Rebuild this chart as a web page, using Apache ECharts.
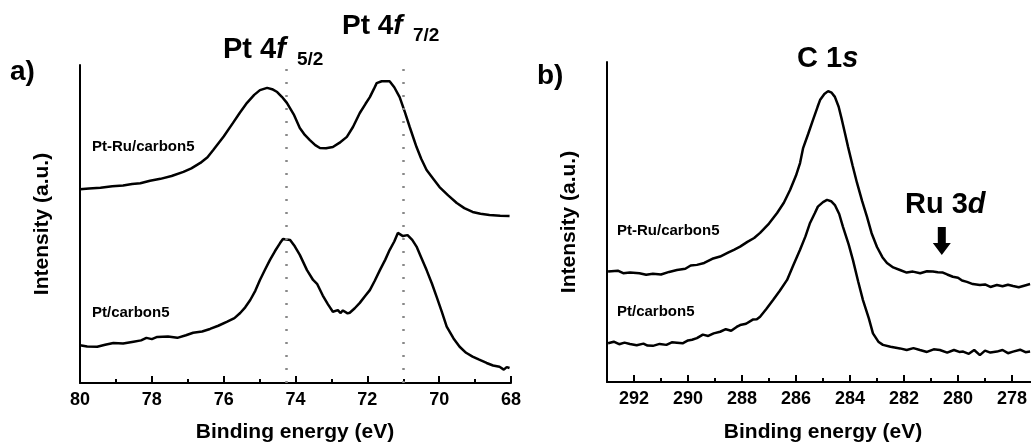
<!DOCTYPE html>
<html>
<head>
<meta charset="utf-8">
<script src="https://cdn.jsdelivr.net/npm/echarts@6/dist/echarts.min.js"></script>
<style>
  html, body { margin: 0; padding: 0; background: #fff; }
  #chart { width: 1031px; height: 443px; }
</style>
</head>
<body>
<div id="chart"></div>
<script>
// a) Pt 4f region
const ptEnergyA = [80.00,79.75,79.43,79.10,78.80,78.55,78.32,78.05,77.76,77.45,77.12,76.90,76.65,76.45,76.29,76.00,75.74,75.55,75.35,75.15,74.99,74.79,74.65,74.51,74.38,74.24,74.05,73.88,73.74,73.60,73.45,73.32,73.15,72.96,72.78,72.57,72.40,72.21,72.05,71.93,71.82,71.74,71.60,71.38,71.25,71.10,70.95,70.82,70.70,70.63,70.50,70.35,70.15,69.99,69.75,69.51,69.30,69.07,68.85,68.60,68.30,68.04];
const ptRuIntensityA = [60.9,61.2,61.4,61.9,62.1,62.6,62.8,63.6,64.2,65.1,66.4,67.5,69.2,71.0,73.3,77.5,81.8,85.0,88.1,90.6,92.1,92.8,92.4,91.5,90.0,88.1,84.5,80.2,78.0,76.4,74.8,73.9,73.8,74.2,75.5,77.4,80.5,84.9,87.8,89.9,92.4,94.3,94.9,94.9,93.0,89.9,85.0,80.5,76.5,74.2,70.5,67.0,64.0,61.6,59.0,56.6,55.0,53.8,53.2,52.8,52.6,52.5];

const ptEnergyB = [80.00,79.80,79.52,79.30,79.07,78.80,78.51,78.30,78.15,78.00,77.85,77.55,77.29,77.05,76.85,76.60,76.38,76.15,75.90,75.70,75.54,75.40,75.26,75.12,74.99,74.85,74.71,74.57,74.43,74.35,74.15,74.02,73.88,73.68,73.51,73.40,73.24,73.10,72.96,72.82,72.75,72.68,72.55,72.49,72.35,72.21,72.05,71.93,71.80,71.65,71.50,71.38,71.25,71.15,71.01,70.88,70.75,70.63,70.50,70.35,70.20,70.07,69.93,69.79,69.60,69.43,69.25,69.07,68.90,68.68,68.50,68.32,68.20,68.12,68.04];
const ptIntensityA = [11.9,11.5,11.4,12.0,12.6,12.4,13.0,13.4,14.2,13.8,14.5,14.6,14.2,15.0,15.8,16.2,17.0,18.0,19.3,20.4,22.0,23.8,26.1,29.0,32.4,35.6,38.7,41.5,44.0,45.3,45.0,43.0,40.3,35.5,32.4,31.2,27.5,24.8,22.4,22.9,22.0,22.8,21.9,22.1,23.5,25.2,27.5,29.2,32.0,35.5,38.8,41.8,44.5,47.2,46.2,46.5,45.0,42.9,39.5,35.5,31.2,27.1,22.5,17.7,14.0,11.4,9.5,8.3,7.4,6.3,5.5,5.1,4.2,5.0,4.7];

// b) C 1s region
const cEnergyA = [292.96,292.60,292.40,292.15,291.80,291.55,291.30,291.00,290.70,290.41,290.10,289.90,289.67,289.40,289.10,288.81,288.50,288.30,288.07,287.80,287.55,287.33,287.00,286.70,286.45,286.22,286.00,285.85,285.74,285.55,285.37,285.20,285.11,284.95,284.81,284.68,284.56,284.42,284.30,284.18,284.07,283.90,283.74,283.55,283.37,283.20,283.00,282.80,282.63,282.40,282.15,281.90,281.67,281.40,281.15,280.93,280.75,280.56,280.40,280.19,280.00,279.85,279.67,279.45,279.19,279.00,278.80,278.56,278.35,278.15,277.96,277.75,277.55,277.33];
const ptRuIntensityB = [34.5,34.8,34.0,34.2,34.0,33.5,33.8,33.6,34.4,35.0,35.4,36.4,36.6,37.2,38.5,39.2,40.5,41.3,42.3,43.8,45.0,46.6,49.5,52.8,56.0,60.0,64.5,68.4,73.0,77.5,81.9,86.0,88.1,90.0,90.9,90.4,89.1,86.0,81.9,77.5,73.4,67.5,62.2,56.5,51.6,46.5,42.2,39.0,37.2,35.8,35.0,34.2,34.5,34.0,34.6,34.5,34.3,34.2,33.6,32.9,32.6,31.7,31.3,30.6,30.3,30.5,29.7,30.3,29.9,30.4,30.0,29.6,30.1,30.6];

const cEnergyB = [292.96,292.75,292.55,292.35,292.15,291.90,291.65,291.50,291.30,291.05,290.80,290.60,290.41,290.20,290.00,289.85,289.67,289.45,289.25,289.05,288.81,288.60,288.40,288.20,288.07,287.85,287.60,287.45,287.33,287.10,286.85,286.60,286.33,286.10,285.85,285.65,285.48,285.30,285.19,285.00,284.85,284.70,284.56,284.40,284.26,284.05,283.89,283.70,283.52,283.30,283.15,282.95,282.78,282.50,282.15,281.90,281.65,281.41,281.15,280.90,280.67,280.40,280.15,279.95,279.81,279.60,279.40,279.19,279.00,278.80,278.56,278.35,278.15,277.96,277.70,277.50,277.33];
const ptIntensityB = [12.1,12.6,11.8,12.3,11.9,11.5,12.0,11.4,11.3,11.9,11.6,12.4,12.3,12.1,13.0,13.2,13.7,14.8,14.4,15.2,15.7,16.5,16.0,17.2,17.8,18.2,19.5,19.6,20.4,22.8,25.6,28.5,31.9,36.5,41.3,45.5,49.7,52.8,54.8,56.2,56.9,56.5,55.3,52.5,48.5,43.0,38.1,31.5,25.6,19.8,15.2,12.6,11.6,11.0,10.5,10.0,10.6,10.0,9.4,10.2,10.0,9.2,10.0,9.4,9.5,8.8,10.0,8.4,9.8,9.2,9.5,10.0,9.0,9.5,10.1,9.3,9.5];

const peakLines = [74.25, 71.0];   // Pt 4f 5/2, Pt 4f 7/2
const ruArrow = [280.6, 44.1];

const font = "'Liberation Sans', Arial, sans-serif";
const zip = (xs, ys) => xs.map((x, i) => [x, ys[i]]);

let myChart = echarts.init(document.getElementById("chart"));

const xAxisBase = {
  type: "value",
  inverse: true,
  interval: 2,
  axisLine: { lineStyle: { color: "#000", width: 2 } },
  axisTick: { inside: true, length: 7, lineStyle: { color: "#000", width: 2 } },
  minorTick: { show: true, splitNumber: 2, length: 4, lineStyle: { color: "#000", width: 2 } },
  splitLine: { show: false },
  axisLabel: { color: "#000", fontSize: 18, fontWeight: "bold", fontFamily: font, margin: 8 },
};
const yAxisBase = {
  type: "value",
  min: 0,
  max: 100,
  name: "Intensity (a.u.)",
  nameLocation: "middle",
  nameGap: 27,
  nameTextStyle: { color: "#000", fontSize: 21, fontWeight: "bold", fontFamily: font },
  axisLine: { show: true, lineStyle: { color: "#000", width: 2 } },
  axisTick: { show: false },
  axisLabel: { show: false },
  splitLine: { show: false },
};
const lineBase = {
  type: "line",
  showSymbol: false,
  symbol: "none",
  lineStyle: { color: "#000", width: 2.5 },
  silent: true,
  z: 3,
};

const bold = (size, extra) => Object.assign({ font: "bold " + size + "px " + font, fill: "#000" }, extra || {});
function txt(x, y, text, size, align) {
  return { type: "text", x: x, y: y, style: bold(size, { text: text, align: align || "left", verticalAlign: "middle" }) };
}
function richTxt(x, y, pre, ital, size) {
  return {
    type: "text", x: x, y: y,
    style: {
      text: "{n|" + pre + "}{i|" + ital + "}",
      verticalAlign: "middle",
      rich: {
        n: { font: "bold " + size + "px " + font, fill: "#000" },
        i: { font: "italic bold " + size + "px " + font, fill: "#000" },
      },
    },
  };
}

let option = {
  animation: false,
  backgroundColor: "#fff",
  grid: [
    { left: 80, width: 431, top: 65, bottom: 60, outerBoundsMode: "none" },
    // axis runs on past the right edge of the picture (cropped at ~277.3 eV)
    { left: 607, width: 459, top: 62, bottom: 61, outerBoundsMode: "none" },
  ],
  xAxis: [
    Object.assign({}, xAxisBase, { gridIndex: 0, min: 68, max: 80 }),
    Object.assign({}, xAxisBase, { gridIndex: 1, min: 276, max: 293,
      axisLabel: Object.assign({}, xAxisBase.axisLabel, { showMaxLabel: false }) }),
  ],
  yAxis: [
    Object.assign({}, yAxisBase, { gridIndex: 0 }),
    Object.assign({}, yAxisBase, { gridIndex: 1 }),
  ],
  series: [
    Object.assign({}, lineBase, {
      name: "Pt-Ru/carbon5 a", xAxisIndex: 0, yAxisIndex: 0,
      data: zip(ptEnergyA, ptRuIntensityA),
      markLine: {
        silent: true,
        symbol: "none",
        label: { show: false },
        lineStyle: { color: "#888", width: 2.5, type: [2, 11] },
        data: peakLines.map((v) => ({ xAxis: v })),
      },
    }),
    Object.assign({}, lineBase, {
      name: "Pt/carbon5 a", xAxisIndex: 0, yAxisIndex: 0,
      data: zip(ptEnergyB, ptIntensityA),
    }),
    Object.assign({}, lineBase, {
      name: "Pt-Ru/carbon5 b", xAxisIndex: 1, yAxisIndex: 1,
      data: zip(cEnergyA, ptRuIntensityB),
      markPoint: {
        silent: true,
        symbol: "path://M5,0 L13,0 L13,16 L18,16 L9,28 L0,16 L5,16 Z",
        symbolSize: [18, 28],
        itemStyle: { color: "#000" },
        label: { show: false },
        data: [{ coord: ruArrow }],
      },
    }),
    Object.assign({}, lineBase, {
      name: "Pt/carbon5 b", xAxisIndex: 1, yAxisIndex: 1,
      data: zip(cEnergyB, ptIntensityB),
    }),
  ],
  graphic: [
    txt(10, 72, "a)", 28),
    txt(537, 76, "b)", 28),
    richTxt(223, 50, "Pt 4", "f", 29),
    txt(297, 60, "5/2", 19),
    richTxt(342, 26, "Pt 4", "f", 28),
    txt(413, 36, "7/2", 19),
    richTxt(797, 59, "C 1", "s", 29),
    richTxt(905, 205, "Ru 3", "d", 29),
    txt(92, 147, "Pt-Ru/carbon5", 15),
    txt(92, 313, "Pt/carbon5", 15),
    txt(617, 231, "Pt-Ru/carbon5", 15),
    txt(617, 312, "Pt/carbon5", 15),
    txt(295, 432, "Binding energy (eV)", 21, "center"),
    txt(823, 432, "Binding energy (eV)", 21, "center"),
  ],
};
myChart.setOption(option);
</script>
</body>
</html>
